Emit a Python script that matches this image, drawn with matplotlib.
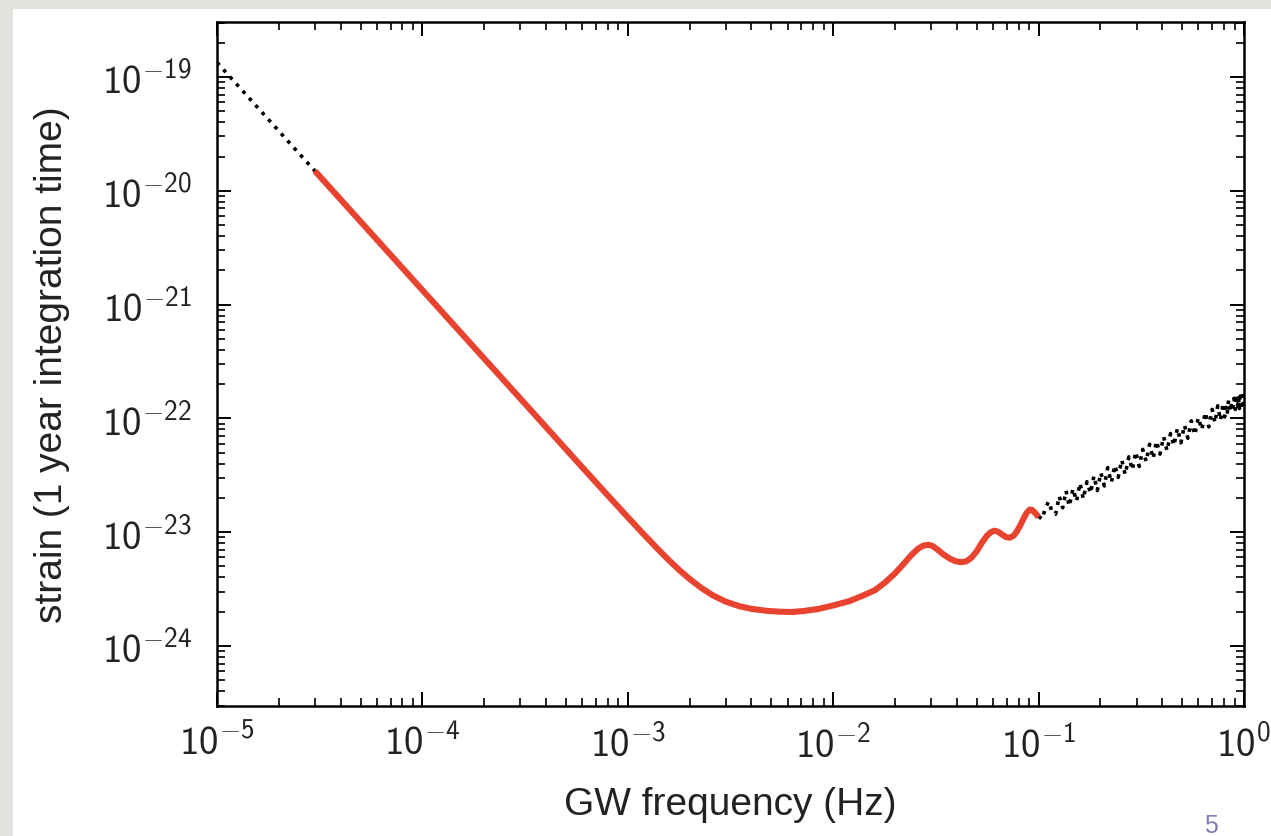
import numpy as np
import matplotlib
matplotlib.use("Agg")
import matplotlib.pyplot as plt
from matplotlib.ticker import LogLocator, FixedLocator, FuncFormatter, NullFormatter
from matplotlib.patches import Rectangle

# ---------------- data ----------------
# low-frequency extrapolation (black dotted)
low_f = [1.0e-5, 1.5e-5, 2.0e-5, 2.5e-5, 3.0e-5]
low_h = [1.34e-19, 5.96e-20, 3.35e-20, 2.14e-20, 1.49e-20]

# main sensitivity curve (red)
main_f = [3.0e-5, 1.0e-4, 3.0e-4, 6.0e-4, 8.0e-4, 1.0e-3, 1.2e-3, 1.4e-3, 1.6e-3, 1.8e-3,
          2.0e-3, 2.3e-3, 2.6e-3, 3.0e-3, 3.5e-3, 4.0e-3, 4.7e-3, 5.5e-3, 6.3e-3, 7.2e-3,
          8.4e-3, 1.0e-2, 1.2e-2, 1.4e-2, 1.6e-2, 1.8e-2, 2.0e-2, 2.2e-2, 2.4e-2, 2.6e-2,
          2.75e-2, 2.9e-2, 3.05e-2, 3.2e-2, 3.45e-2, 3.7e-2, 3.95e-2, 4.2e-2, 4.45e-2, 4.7e-2,
          5.0e-2, 5.3e-2, 5.6e-2, 5.85e-2, 6.1e-2, 6.35e-2, 6.65e-2, 6.95e-2, 7.25e-2, 7.55e-2,
          7.85e-2, 8.15e-2, 8.45e-2, 8.75e-2, 9.05e-2, 9.3e-2, 9.6e-2, 1.0e-1]
main_h = [1.49e-20, 1.34e-21, 1.49e-22, 3.72e-23, 2.10e-23, 1.354e-23, 9.51e-24, 7.11e-24, 5.58e-24, 4.57e-24,
          3.88e-24, 3.20e-24, 2.78e-24, 2.45e-24, 2.235e-24, 2.12e-24, 2.04e-24, 2.0e-24, 1.99e-24, 2.03e-24,
          2.11e-24, 2.27e-24, 2.48e-24, 2.78e-24, 3.10e-24, 3.65e-24, 4.35e-24, 5.25e-24, 6.3e-24, 7.2e-24,
          7.62e-24, 7.76e-24, 7.55e-24, 7.1e-24, 6.35e-24, 5.85e-24, 5.55e-24, 5.45e-24, 5.55e-24, 5.95e-24,
          6.8e-24, 8.1e-24, 9.3e-24, 1.0e-23, 1.03e-23, 1.01e-23, 9.5e-24, 9.05e-24, 8.95e-24, 9.3e-24,
          1.02e-23, 1.15e-23, 1.32e-23, 1.48e-23, 1.58e-23, 1.57e-23, 1.48e-23, 1.36e-23]

# high-frequency extrapolation (black dotted, noisy)
high_f = [0.100, 0.104, 0.108, 0.112, 0.116, 0.121, 0.126, 0.131, 0.136, 0.141,
          0.147, 0.153, 0.159, 0.165, 0.172, 0.179, 0.186, 0.193, 0.201, 0.209,
          0.217, 0.226, 0.235, 0.244, 0.254, 0.264, 0.275, 0.286, 0.297, 0.309,
          0.321, 0.334, 0.347, 0.361, 0.375, 0.390, 0.406, 0.422, 0.439, 0.456,
          0.474, 0.493, 0.513, 0.533, 0.554, 0.576, 0.599, 0.623, 0.648, 0.674,
          0.700, 0.722, 0.745, 0.768, 0.792, 0.804, 0.816, 0.828, 0.841, 0.854,
          0.867, 0.880, 0.894, 0.907, 0.921, 0.930, 0.940, 0.950, 0.960, 0.970,
          0.980, 0.990, 1.000]
high_h = [1.38e-23, 1.30e-23, 1.64e-23, 1.86e-23, 1.53e-23, 1.44e-23, 2.07e-23, 1.64e-23, 2.31e-23, 1.69e-23,
          2.41e-23, 1.87e-23, 2.70e-23, 1.96e-23, 2.78e-23, 2.20e-23, 3.12e-23, 2.32e-23, 3.33e-23, 2.55e-23,
          3.69e-23, 2.73e-23, 3.87e-23, 3.03e-23, 4.31e-23, 3.21e-23, 4.59e-23, 3.52e-23, 5.09e-23, 3.78e-23,
          5.34e-23, 4.18e-23, 5.93e-23, 4.43e-23, 6.31e-23, 4.85e-23, 6.91e-23, 5.19e-23, 7.36e-23, 5.76e-23,
          8.17e-23, 6.10e-23, 8.72e-23, 6.69e-23, 9.52e-23, 7.16e-23, 1.014e-22, 7.95e-23, 1.128e-22, 8.42e-23,
          1.20e-22, 9.14e-23, 1.29e-22, 9.63e-23, 1.36e-22, 1.03e-22, 1.25e-22, 1.08e-22, 1.44e-22, 1.14e-22,
          1.30e-22, 1.18e-22, 1.50e-22, 1.20e-22, 1.62e-22, 1.28e-22, 1.52e-22, 1.22e-22, 1.70e-22, 1.30e-22,
          1.58e-22, 1.32e-22, 1.62e-22]

x_ticks = [1e-5, 1e-4, 1e-3, 1e-2, 1e-1, 1e0]
y_ticks = [1e-24, 1e-23, 1e-22, 1e-21, 1e-20, 1e-19]
x_limits = (1e-5, 1e0)
y_limits = (2.97e-25, 3.04e-19)
x_label = "GW frequency (Hz)"
y_label = "strain (1 year integration time)"
page_number = "5"

# ---------------- figure ----------------
plt.rcParams['mathtext.fontset'] = 'custom'
plt.rcParams['mathtext.rm'] = 'cmss10'
plt.rcParams['mathtext.it'] = 'cmss10'
plt.rcParams['mathtext.sf'] = 'cmss10'
plt.rcParams['mathtext.default'] = 'rm'
plt.rcParams['mathtext.fallback'] = 'cm'
plt.rcParams['font.family'] = ['Liberation Sans', 'DejaVu Sans']
plt.rcParams['axes.unicode_minus'] = True

W, H = 1271, 837
fig = plt.figure(figsize=(W / 100, H / 100), dpi=100)
fig.patch.set_facecolor('#e2e2de')
fig.patches.append(Rectangle((13 / W, 0), 1 - 13 / W, 1 - 10 / H,
                             transform=fig.transFigure, facecolor='white',
                             edgecolor='none', zorder=-10))

ax = fig.add_axes([217 / W, 1 - 707 / H, (1244 - 217) / W, (707 - 23) / H])
ax.set_zorder(2)
ax.set_xscale('log')
ax.set_yscale('log')

ax.plot(low_f, low_h, color='black', linestyle=':', linewidth=2.6)
ax.plot(high_f, high_h, color='black', linestyle=':', linewidth=2.6)
ax.plot(main_f, main_h, color='#e8432e', linewidth=4.4,
        solid_capstyle='butt', solid_joinstyle='round')

ax.set_xlim(*x_limits)
ax.set_ylim(*y_limits)

fmt = FuncFormatter(lambda v, p: r'$10^{%d}$' % int(round(np.log10(v))))
for axis, ticks in ((ax.xaxis, x_ticks), (ax.yaxis, y_ticks)):
    axis.set_major_locator(FixedLocator(ticks))
    axis.set_minor_locator(LogLocator(base=10, subs=np.arange(2, 10), numticks=100))
    axis.set_major_formatter(fmt)
    axis.set_minor_formatter(NullFormatter())

ax.tick_params(which='both', direction='in', top=True, right=True,
               colors='black', labelcolor='#222222')
ax.tick_params(which='major', length=10, width=1.4, labelsize=28)
ax.tick_params(axis='x', which='major', pad=13)
ax.tick_params(axis='y', which='major', pad=18)
ax.tick_params(which='minor', length=5.5, width=1.2)
for s in ax.spines.values():
    s.set_linewidth(1.8)

# axis titles placed explicitly in figure pixels
fig.text(730 / W, 1 - 805 / H, x_label, fontsize=28, color='#222222',
         ha='center', va='center')
fig.text(52 / W, 1 - 365 / H, y_label, fontsize=28, color='#222222',
         ha='center', va='center', rotation=90)

fig.text(1211 / W, 1 - 826 / H, page_number, fontsize=18, color='#7a7db8',
         ha='center', va='center')

fig.savefig('out.png', dpi=100, facecolor=fig.get_facecolor())
